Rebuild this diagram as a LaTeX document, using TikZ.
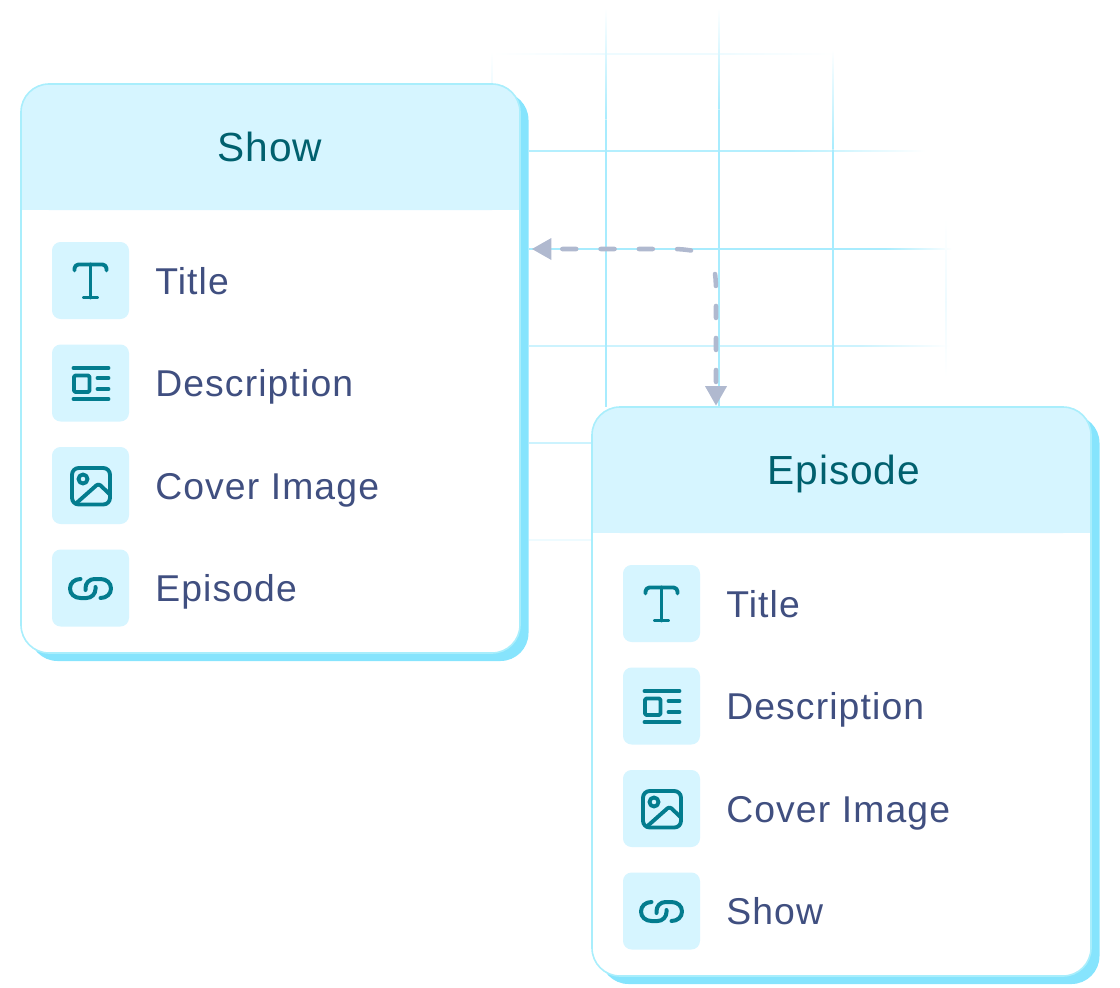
\documentclass[tikz,border=0pt]{standalone}
\usepackage{fontspec}
\setmainfont{Liberation Sans}
\newfontfamily\itemfont[LetterSpace=3]{Liberation Sans}
\newfontfamily\headfont[LetterSpace=2.2]{Liberation Sans}
\usetikzlibrary{arrows.meta}
\definecolor{gridc}{HTML}{A8ECFE}
\definecolor{gridm}{HTML}{B4EFFE}
\definecolor{gridl}{HTML}{CCF3FE}
\definecolor{gridf}{HTML}{EEFBFF}
\definecolor{headc}{HTML}{D6F5FF}
\definecolor{borderc}{HTML}{A9EEFC}
\definecolor{shadowc}{HTML}{86E4FD}
\definecolor{iconc}{HTML}{037C8E}
\definecolor{headtext}{HTML}{00606E}
\definecolor{itemtext}{HTML}{404F80}
\definecolor{dashc}{HTML}{B0B9CF}
\tikzset{
  x=0.75pt,y=-0.75pt,
  gridline/.style={draw=#1,line width=1pt},
  cardshadow/.style={fill=shadowc,rounded corners=21pt,minimum width=374.25pt,minimum height=#1,inner sep=0pt,outer sep=0pt,anchor=north west},
  cardbody/.style={fill=white,rounded corners=21pt,minimum width=374.25pt,minimum height=#1,inner sep=0pt,outer sep=0pt,anchor=north west},
  headfill/.style={fill=headc,rounded corners=21pt},
  cardborder/.style={draw=borderc,line width=1.2pt,rounded corners=21pt},
  tile/.style={fill=headc,rounded corners=6.5pt,minimum size=57.75pt,inner sep=0pt,outer sep=0pt,anchor=north west},
  headlabel/.style={inner sep=0pt,anchor=base,text=headtext,font=\headfont\fontsize{30.5}{33}\selectfont},
  itemlabel/.style={inner sep=0pt,anchor=base west,text=itemtext,font=\itemfont\fontsize{28}{31}\selectfont},
  iconline/.style={draw=iconc,line width=2.9pt,line cap=round,line join=round},
  flow/.style={draw=dashc,line width=3.4pt,line cap=round,
    -{Triangle[length=14.5pt,width=16.5pt,fill=dashc,line width=0pt,round=false]}},
  pics/titleicon/.style={code={
    \draw[iconline,rounded corners=3pt] (-16,-10) -- (-16,-16) -- (16,-16) -- (16,-10);
    \draw[iconline] (0,-16) -- (0,17) (-6.5,17) -- (6.5,17);
  }},
  pics/descicon/.style={code={
    \draw[iconline] (-17,-15) -- (18,-15) (-17,16) -- (18,16) (7,-5) -- (18,-5) (7,6) -- (18,6);
    \draw[iconline,rounded corners=1pt] (-16.5,-7.5) rectangle (-1,9);
  }},
  pics/imageicon/.style={code={
    \draw[iconline,rounded corners=5pt] (-18.5,-17.5) rectangle (19.5,19);
    \draw[iconline] (-7.5,-6.5) circle[radius=4.5];
    \draw[iconline,rounded corners=2pt] (-14,17.5) -- (8,-2) -- (19.5,9);
  }},
  pics/linkicon/.style={code={
    \draw[iconline,line width=3pt] (-10,-9) .. controls (-16,-9) and (-20.5,-5) .. (-20.5,0.5)
      .. controls (-20.5,6) and (-16,10) .. (-10,10) -- (-4,10)
      .. controls (1,10) and (5,6) .. (5,1) -- (5,-1);
    \draw[iconline,line width=3pt] (10,10) .. controls (16,10) and (20.5,6) .. (20.5,0.5)
      .. controls (20.5,-5) and (16,-9) .. (10,-9) -- (4,-9)
      .. controls (-1,-9) and (-5,-5) .. (-5,0) -- (-5,2);
  }},
}
\begin{document}
\begin{tikzpicture}
\useasboundingbox (0,0) rectangle (1120,988);
% grid: horizontal
\shade[left color=white,right color=gridf] (492,53.35) rectangle (605,54.65);
\draw[gridline=gridf] (605,54) -- (720,54);
\shade[left color=gridf,right color=white] (720,53.35) rectangle (835,54.65);
\draw[gridline=gridm] (529,151) -- (790,151);
\shade[left color=gridm,right color=white] (790,150.35) rectangle (925,151.65);
\draw[gridline=gridc] (529,249) -- (885,249);
\shade[left color=gridc,right color=white] (885,248.35) rectangle (952,249.65);
\draw[gridline=gridl] (529,346) -- (860,346);
\shade[left color=gridl,right color=white] (860,345.35) rectangle (950,346.65);
\draw[gridline=gridl] (529,443) -- (592,443);
\draw[gridline=gridf] (529,540) -- (592,540);
% grid: vertical
\shade[top color=white,bottom color=gridc] (605.35,8) rectangle (606.65,120);
\draw[gridline=gridc] (606,120) -- (606,407);
\shade[top color=white,bottom color=gridc] (718.35,8) rectangle (719.65,110);
\draw[gridline=gridc] (719,110) -- (719,407);
\shade[top color=white,bottom color=gridc] (832.35,50) rectangle (833.65,150);
\draw[gridline=gridc] (833,150) -- (833,407);
\shade[top color=white,bottom color=gridf] (945.35,218) rectangle (946.65,300);
\shade[top color=gridf,bottom color=white] (945.35,300) rectangle (946.65,378);
\shade[top color=white,bottom color=gridf] (491.35,52) rectangle (492.65,85);
% Show card
\node[cardshadow=426.75pt] (showshadow) at (29.5,92) {};
\node[cardbody=426.75pt] (show) at (21,84) {};
\fill[headfill] (21,210) -- (21,84) -- (520,84) -- (520,210) -- cycle;
\fill[headc] (21,150) rectangle (520,210);
\draw[cardborder] (show.north west) rectangle (show.south east);
\node[headlabel] (showtitle) at (270,161.5) {Show};
\node[tile] (s1) at (52,242) {};
\node[tile] (s2) at (52,344.5) {};
\node[tile] (s3) at (52,447) {};
\node[tile] (s4) at (52,549.5) {};
\pic at (s1.center) {titleicon};
\pic at (s2.center) {descicon};
\pic at (s3.center) {imageicon};
\pic at (s4.center) {linkicon};
\node[itemlabel] (s1t) at (155,294) {Title};
\node[itemlabel] (s2t) at (155,396.5) {Description};
\node[itemlabel] (s3t) at (155,499) {Cover Image};
\node[itemlabel] (s4t) at (155,601.5) {Episode};
% Episode card
\node[cardshadow=426.75pt] (epshadow) at (600.5,415) {};
\node[cardbody=426.75pt] (ep) at (592,407) {};
\fill[headfill] (592,533) -- (592,407) -- (1091,407) -- (1091,533) -- cycle;
\fill[headc] (592,473) rectangle (1091,533);
\draw[cardborder] (ep.north west) rectangle (ep.south east);
\node[headlabel] (eptitle) at (844,484.5) {Episode};
\node[tile] (e1) at (623,565) {};
\node[tile] (e2) at (623,667.5) {};
\node[tile] (e3) at (623,770) {};
\node[tile] (e4) at (623,872.5) {};
\pic at (e1.center) {titleicon};
\pic at (e2.center) {descicon};
\pic at (e3.center) {imageicon};
\pic at (e4.center) {linkicon};
\node[itemlabel] (e1t) at (726,617) {Title};
\node[itemlabel] (e2t) at (726,719.5) {Description};
\node[itemlabel] (e3t) at (726,822) {Cover Image};
\node[itemlabel] (e4t) at (726,924.5) {Show};
% connectors
\coordinate (showport) at (532,249);
\coordinate (epport) at (716,405.5);
\coordinate (hstart) at (691,250.5);
\coordinate (vstart) at (715,274);
\draw[flow,dash pattern=on 10.5pt off 18.2pt] (hstart) .. controls (685,249.5) and (680,249) .. (670,249) -- (showport);
\draw[flow,dash pattern=on 9pt off 15pt] (vstart) .. controls (716,280) and (716,290) .. (716,300) -- (epport);
\end{tikzpicture}
\end{document}
